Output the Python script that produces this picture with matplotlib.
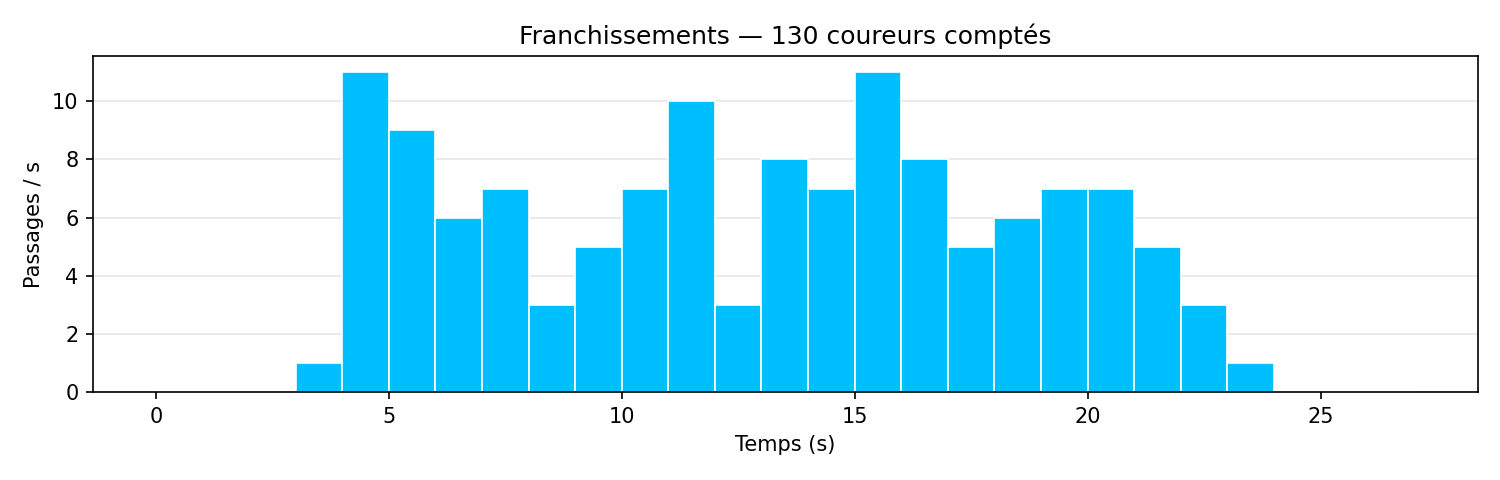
import matplotlib
matplotlib.use("Agg")
import matplotlib.pyplot as plt
import numpy as np

bin_starts = list(range(0, 27))
counts = [0, 0, 0, 1, 11, 9, 6, 7, 3, 5, 7, 10, 3, 8, 7, 11, 8, 5, 6, 7, 7, 5, 3, 1, 0, 0, 0]
title = "Franchissements — 130 coureurs comptés"

fig, ax = plt.subplots(figsize=(10, 3.2), dpi=150)
ax.bar(bin_starts, counts, width=1.0, align="edge", color="#00BFFF",
       edgecolor="white", linewidth=0.8, zorder=2)
ax.set_xlim(-1.35, 28.37)
ax.set_ylim(0, 11.55)
ax.set_yticks([0, 2, 4, 6, 8, 10])
ax.set_xticks([0, 5, 10, 15, 20, 25])
ax.grid(axis="y", color="#e6e6e6", linewidth=0.8, zorder=0)
ax.set_axisbelow(True)
ax.set_title(title, fontsize=12)
ax.set_xlabel("Temps (s)", fontsize=10)
ax.set_ylabel("Passages / s", fontsize=10)
ax.tick_params(labelsize=10)
fig.subplots_adjust(left=0.062, right=0.985, top=0.883, bottom=0.183)
fig.savefig("out.png", dpi=150)
